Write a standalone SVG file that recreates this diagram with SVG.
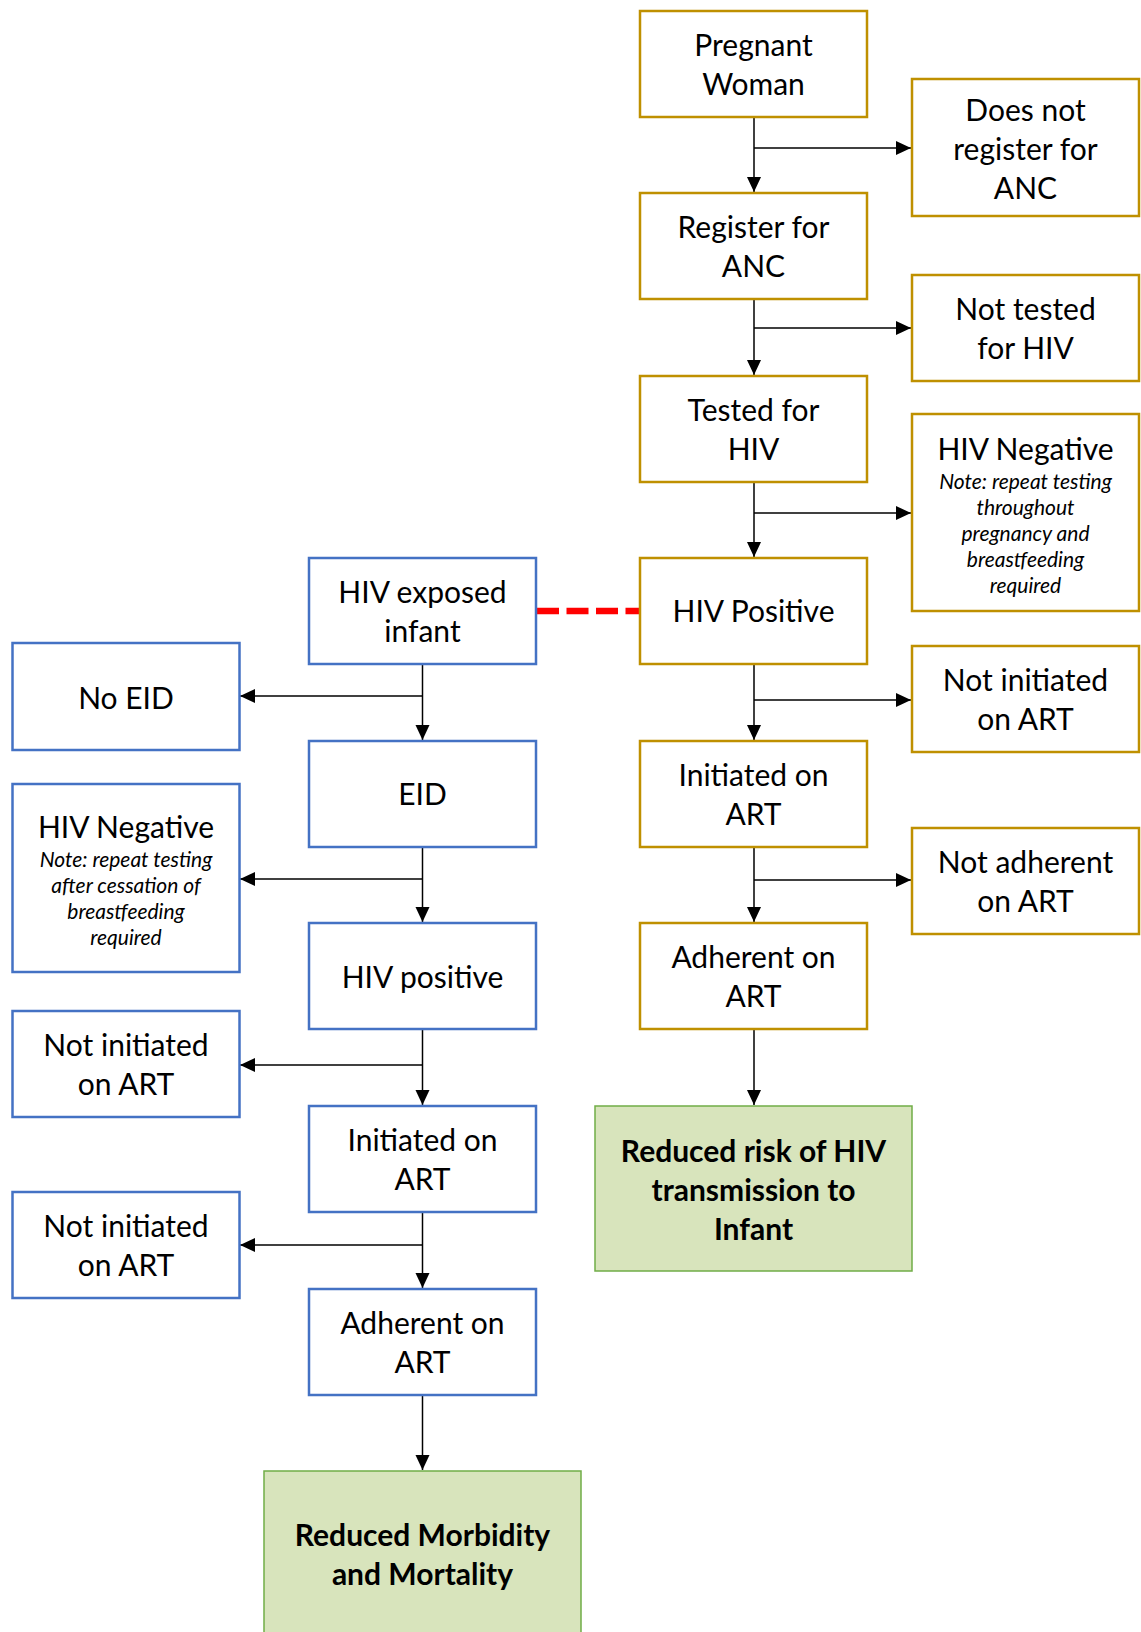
<svg xmlns="http://www.w3.org/2000/svg" width="1141" height="1632" viewBox="0 0 1141 1632">
<defs>
<style>
.g{fill:#fff;stroke:#BF9000;stroke-width:2.5}
.b{fill:#fff;stroke:#4472C4;stroke-width:2.5}
.o{fill:#D8E4BC;stroke:#70AD47;stroke-width:1.5}
text{font-family:"Lato","Noto Sans",sans-serif;fill:#000;text-anchor:middle}
.t{font-size:30px}
.n{font-size:21px;font-style:italic}
.bo{font-size:30px;font-weight:bold}
.c{stroke:#000;stroke-width:1.5;fill:none;marker-end:url(#ah)}
</style>
<marker id="ah" markerUnits="userSpaceOnUse" markerWidth="16" markerHeight="16" viewBox="0 0 16 16" refX="15" refY="8" orient="auto">
<path d="M0,1 L15,8 L0,15 Z" fill="#000"/>
</marker>
</defs>
<rect width="1141" height="1632" fill="#fff"/>

<g id="connectors">
<line class="c" x1="754" y1="117" x2="754" y2="192"/>
<line class="c" x1="754" y1="299" x2="754" y2="375"/>
<line class="c" x1="754" y1="482" x2="754" y2="557"/>
<line class="c" x1="754" y1="664" x2="754" y2="740"/>
<line class="c" x1="754" y1="847" x2="754" y2="922"/>
<line class="c" x1="754" y1="1029" x2="754" y2="1105"/>
<line class="c" x1="754" y1="148" x2="911" y2="148"/>
<line class="c" x1="754" y1="328" x2="911" y2="328"/>
<line class="c" x1="754" y1="513" x2="911" y2="513"/>
<line class="c" x1="754" y1="700" x2="911" y2="700"/>
<line class="c" x1="754" y1="880" x2="911" y2="880"/>
<line class="c" x1="422.5" y1="664" x2="422.5" y2="740"/>
<line class="c" x1="422.5" y1="847" x2="422.5" y2="922"/>
<line class="c" x1="422.5" y1="1029" x2="422.5" y2="1105"/>
<line class="c" x1="422.5" y1="1212" x2="422.5" y2="1288"/>
<line class="c" x1="422.5" y1="1395" x2="422.5" y2="1470"/>
<line class="c" x1="422.5" y1="696" x2="240" y2="696"/>
<line class="c" x1="422.5" y1="879" x2="240" y2="879"/>
<line class="c" x1="422.5" y1="1065" x2="240" y2="1065"/>
<line class="c" x1="422.5" y1="1245" x2="240" y2="1245"/>
<line x1="537" y1="611" x2="640" y2="611" stroke="#FF0000" stroke-width="6.5" stroke-dasharray="22,7.5"/>
</g>

<g id="pregnant"><rect class="g" x="640" y="11" width="227" height="106"/><text class="t" x="753.5" y="56">Pregnant</text><text class="t" x="753.5" y="95">Woman</text></g>
<g id="register"><rect class="g" x="640" y="193" width="227" height="106"/><text class="t" x="753.5" y="238">Register for</text><text class="t" x="753.5" y="277">ANC</text></g>
<g id="tested"><rect class="g" x="640" y="376" width="227" height="106"/><text class="t" x="753.5" y="421">Tested for</text><text class="t" x="753.5" y="460">HIV</text></g>
<g id="hivpos-mother"><rect class="g" x="640" y="558" width="227" height="106"/><text class="t" x="753.5" y="622">HIV Positive</text></g>
<g id="initiated-mother"><rect class="g" x="640" y="741" width="227" height="106"/><text class="t" x="753.5" y="786">Initiated on</text><text class="t" x="753.5" y="825">ART</text></g>
<g id="adherent-mother"><rect class="g" x="640" y="923" width="227" height="106"/><text class="t" x="753.5" y="968">Adherent on</text><text class="t" x="753.5" y="1007">ART</text></g>
<g id="outcome-mother"><rect class="o" x="595" y="1106" width="317" height="165"/><text class="bo" x="753.5" y="1162">Reduced risk of HIV</text><text class="bo" x="753.5" y="1201">transmission to</text><text class="bo" x="753.5" y="1240">Infant</text></g>

<g id="no-register"><rect class="g" x="912" y="79" width="227" height="137"/><text class="t" x="1025.5" y="121">Does not</text><text class="t" x="1025.5" y="160">register for</text><text class="t" x="1025.5" y="199">ANC</text></g>
<g id="not-tested"><rect class="g" x="912" y="275" width="227" height="106"/><text class="t" x="1025.5" y="320">Not tested</text><text class="t" x="1025.5" y="359">for HIV</text></g>
<g id="hivneg-mother"><rect class="g" x="912" y="414" width="227" height="197"/><text class="t" x="1025.5" y="460">HIV Negative</text><text class="n" x="1025.5" y="489">Note: repeat testing</text><text class="n" x="1025.5" y="515">throughout</text><text class="n" x="1025.5" y="541">pregnancy and</text><text class="n" x="1025.5" y="567">breastfeeding</text><text class="n" x="1025.5" y="593">required</text></g>
<g id="not-initiated-mother"><rect class="g" x="912" y="646" width="227" height="106"/><text class="t" x="1025.5" y="691">Not initiated</text><text class="t" x="1025.5" y="730">on ART</text></g>
<g id="not-adherent-mother"><rect class="g" x="912" y="828" width="227" height="106"/><text class="t" x="1025.5" y="873">Not adherent</text><text class="t" x="1025.5" y="912">on ART</text></g>

<g id="exposed-infant"><rect class="b" x="309" y="558" width="227" height="106"/><text class="t" x="422.5" y="603">HIV exposed</text><text class="t" x="422.5" y="642">infant</text></g>
<g id="eid"><rect class="b" x="309" y="741" width="227" height="106"/><text class="t" x="422.5" y="805">EID</text></g>
<g id="hivpos-infant"><rect class="b" x="309" y="923" width="227" height="106"/><text class="t" x="422.5" y="988">HIV positive</text></g>
<g id="initiated-infant"><rect class="b" x="309" y="1106" width="227" height="106"/><text class="t" x="422.5" y="1151">Initiated on</text><text class="t" x="422.5" y="1190">ART</text></g>
<g id="adherent-infant"><rect class="b" x="309" y="1289" width="227" height="106"/><text class="t" x="422.5" y="1334">Adherent on</text><text class="t" x="422.5" y="1373">ART</text></g>
<g id="outcome-infant"><rect class="o" x="264" y="1471" width="317" height="175"/><text class="bo" x="422.5" y="1546">Reduced Morbidity</text><text class="bo" x="422.5" y="1585">and Mortality</text></g>

<g id="no-eid"><rect class="b" x="12.5" y="643" width="227" height="107"/><text class="t" x="126" y="709">No EID</text></g>
<g id="hivneg-infant"><rect class="b" x="12.5" y="784" width="227" height="188"/><text class="t" x="126" y="838">HIV Negative</text><text class="n" x="126" y="867">Note: repeat testing</text><text class="n" x="126" y="893">after cessation of</text><text class="n" x="126" y="919">breastfeeding</text><text class="n" x="126" y="945">required</text></g>
<g id="not-initiated-infant-1"><rect class="b" x="12.5" y="1011" width="227" height="106"/><text class="t" x="126" y="1056">Not initiated</text><text class="t" x="126" y="1095">on ART</text></g>
<g id="not-initiated-infant-2"><rect class="b" x="12.5" y="1192" width="227" height="106"/><text class="t" x="126" y="1237">Not initiated</text><text class="t" x="126" y="1276">on ART</text></g>
</svg>
